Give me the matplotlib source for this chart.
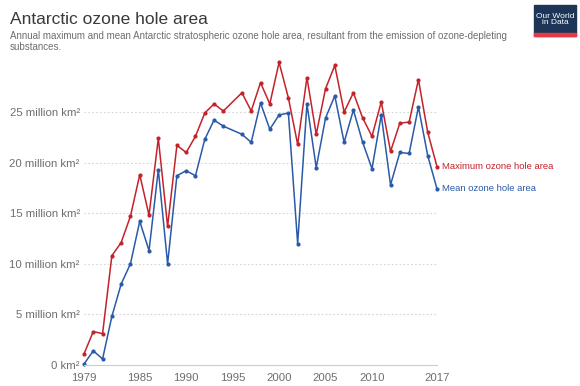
import matplotlib.pyplot as plt
from matplotlib.patches import Rectangle

# values (million km2); 1995 has no data
years = [1979, 1980, 1981, 1982, 1983, 1984, 1985, 1986, 1987, 1988, 1989,
         1990, 1991, 1992, 1993, 1994, 1996, 1997, 1998, 1999, 2000, 2001,
         2002, 2003, 2004, 2005, 2006, 2007, 2008, 2009, 2010, 2011, 2012,
         2013, 2014, 2015, 2016, 2017]
max_area = [1.1, 3.3, 3.1, 10.8, 12.1, 14.7, 18.8, 14.8, 22.4, 13.7, 21.7,
            21.0, 22.6, 24.9, 25.8, 25.1, 26.9, 25.1, 27.9, 25.8, 29.9, 26.4,
            21.8, 28.4, 22.8, 27.3, 29.6, 25.0, 26.9, 24.4, 22.6, 26.0, 21.1,
            23.9, 24.0, 28.2, 23.0, 19.6]
mean_area = [0.1, 1.4, 0.6, 4.8, 8.0, 10.0, 14.2, 11.3, 19.3, 10.0, 18.7,
             19.2, 18.7, 22.3, 24.2, 23.6, 22.8, 22.0, 25.9, 23.3, 24.7, 24.9,
             12.0, 25.8, 19.5, 24.4, 26.6, 22.0, 25.2, 22.0, 19.4, 24.7, 17.8,
             21.0, 20.9, 25.5, 20.7, 17.4]
xticks = [1979, 1985, 1990, 1995, 2000, 2005, 2010, 2017]
yticks = [0, 5, 10, 15, 20, 25]
ylabels = ["0 km²"] + [f"{v} million km²" for v in yticks[1:]]

red = "#c4222b"
blue = "#2a5aa8"
grey = "#6e6e6e"

plt.rcParams['font.family'] = ['Liberation Sans', 'DejaVu Sans']

fig = plt.figure(figsize=(5.8, 3.86), dpi=100)
ax = fig.add_axes([84/580, 1 - 365/386, (437 - 84)/580, (365 - 61.4)/386])

ax.plot(years, max_area, color=red, lw=1.1, marker='o', ms=2, clip_on=False)
ax.plot(years, mean_area, color=blue, lw=1.1, marker='o', ms=2, clip_on=False)

ax.set_xlim(1979, 2017)
ax.set_ylim(0, 30)
ax.set_xticks(xticks)
ax.set_yticks(yticks)
ax.set_yticklabels(ylabels)
ax.tick_params(length=0, labelsize=8.2, colors=grey)
ax.tick_params(axis='y', pad=3)
ax.tick_params(axis='x', pad=6)

for v in yticks[1:]:
    ax.axhline(v, color="#d6d6d6", lw=0.8, ls=(0, (1.5, 2)), zorder=0)
for s in ['top', 'right', 'left']:
    ax.spines[s].set_visible(False)
ax.spines['bottom'].set_color("#cccccc")

ax.text(2017.5, max_area[-1], "Maximum ozone hole area", color=red,
        fontsize=6.8, va='center', ha='left')
ax.text(2017.5, mean_area[-1], "Mean ozone hole area", color=blue,
        fontsize=6.8, va='center', ha='left')

fig.text(10/580, 1 - 19/386, "Antarctic ozone hole area", fontsize=12.5,
         color="#3a3a3a", va='center')
fig.text(10/580, 1 - 31/386,
         "Annual maximum and mean Antarctic stratospheric ozone hole area, "
         "resultant from the emission of ozone-depleting\nsubstances.",
         fontsize=7.05, color=grey, va='top', linespacing=1.15)

# logo
fig.patches.append(Rectangle((534/580, 1 - 36/386), 42/580, 31/386,
                             transform=fig.transFigure, color="#1d3557"))
fig.patches.append(Rectangle((534/580, 1 - 36/386), 42/580, 3/386,
                             transform=fig.transFigure, color="#e63946"))
fig.text(555/580, 1 - 19.5/386, "Our World\nin Data", fontsize=6,
         color="white", ha='center', va='center', linespacing=1.0)

fig.savefig("out.png", dpi=100)
